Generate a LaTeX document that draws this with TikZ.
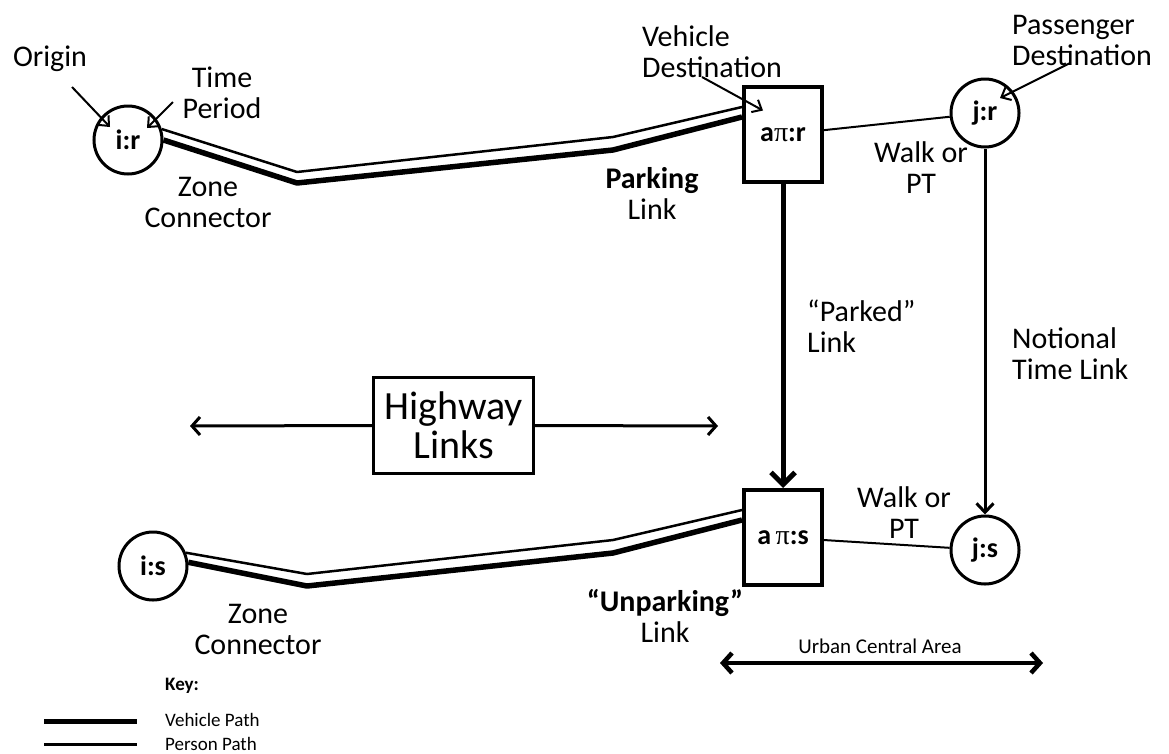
\documentclass[tikz,border=0pt]{standalone}
\usepackage{fontspec}
\setmainfont{Carlito}
\newfontfamily\pifont{Liberation Serif}
\usetikzlibrary{arrows.meta,calc}
\begin{document}
\begin{tikzpicture}[x=1pt,y=-1pt,
  lbl/.style={font=\fontsize{30}{31}\selectfont, inner sep=0pt, align=center},
  lbll/.style={font=\fontsize{30}{31}\selectfont, inner sep=0pt, align=left, anchor=west},
  small/.style={font=\fontsize{19}{20}\selectfont, inner sep=0pt, anchor=west},
  circ/.style={circle, draw, line width=3pt, minimum size=68pt, inner sep=0pt, font=\bfseries\fontsize{28}{28}\selectfont},
  zbox/.style={rectangle, draw, line width=4pt, minimum width=78pt, minimum height=95pt, inner sep=0pt, font=\bfseries\fontsize{28}{28}\selectfont},
  hbox/.style={rectangle, draw, line width=3pt, minimum width=160pt, minimum height=96pt, inner sep=0pt, align=center, font=\fontsize{40}{39}\selectfont},
  person/.style={line width=2.5pt, line join=round},
  vehicle/.style={line width=5.5pt, line join=round},
  walk/.style={line width=2pt},
  pointer/.style={line width=2pt, -{Straight Barb[length=8pt,width=14pt]}},
]
\useasboundingbox (0,0) rectangle (1169,753);

% nodes
\node[circ] (ir) at (128,140) {i:r};
\node[circ] (is) at (153,566) {i:s};
\node[circ] (jr) at (985,113) {j:r};
\node[circ] (js) at (985,550) {j:s};
\node[zbox] (ar) at (783,134.5) {a{\pifont\mdseries π}:r};
\node[zbox] (as) at (783,537.5) {a\,{\pifont\mdseries π}:s};
\node[hbox] (hw) at (453.5,425.5) {Highway\\Links};

% bend points
\coordinate (up1) at (297,172);
\coordinate (up2) at (613,137);
\coordinate (uv1) at (297,183);
\coordinate (uv2) at (613,150);
\coordinate (lp1) at (307,574);
\coordinate (lp2) at (613,540);
\coordinate (lv1) at (307,586);
\coordinate (lv2) at (613,553);

% zone connector / parking paths
\draw[person] (ir.18) -- (up1) -- (up2) -- ($(ar.west)+(0,-27.5)$);
\draw[vehicle] (ir.east) -- (uv1) -- (uv2) -- ($(ar.west)+(0,-17.5)$);
\draw[person] (is.22) -- (lp1) -- (lp2) -- ($(as.west)+(0,-27.5)$);
\draw[vehicle] (is.6) -- (lv1) -- (lv2) -- ($(as.west)+(0,-17.5)$);

% walk links
\draw[walk] (ar) -- (jr);
\draw[walk] (as) -- (js);

% parked link and notional time link
\draw[line width=5pt, -{Straight Barb[length=12pt,width=24pt]}] (ar.south) -- (as.north);
\draw[line width=3pt, -{Straight Barb[length=9pt,width=17pt]}] (jr.south) -- (js.north);

% highway arrows
\coordinate (hl) at (190,426);
\coordinate (hr) at (718,426);
\draw[line width=3pt, -{Straight Barb[length=8pt,width=18pt]}] (hw.west) -- (hl);
\draw[line width=3pt, -{Straight Barb[length=8pt,width=18pt]}] (hw.east) -- (hr);

% pointer arrows
\coordinate (po) at (72,87);
\coordinate (pt) at (173,102);
\coordinate (pv) at (702,77);
\coordinate (pp) at (1070,63);
\draw[pointer] (po) -- ($(ir.center)+(-18,-13)$);
\draw[pointer] (pt) -- ($(ir.center)+(19,-12)$);
\draw[pointer] (pv) -- ($(ar.center)+(-20,-24)$);
\draw[pointer] (pp) -- ($(jr.center)+(15,-15)$);

% labels
\node[lbl] (tOrigin) at (50,59) {Origin};
\node[lbl] (tTime) at (222,93) {Time\\Period};
\node[lbl] (tZone1) at (208,202) {Zone\\Connector};
\node[lbll] (tVD) at (642,52) {Vehicle\\Destination};
\node[lbll] (tPD) at (1012,40) {Passenger\\Destination};
\node[lbl] (tWalk1) at (921,168) {Walk or\\PT};
\node[lbl] (tPark) at (652,193) {\textbf{Parking}\\Link};
\node[lbll] (tParked) at (807,326) {“Parked”\\Link};
\node[lbll] (tNot) at (1012,354) {Notional\\Time Link};
\node[lbl] (tWalk2) at (904,513) {Walk or\\PT};
\node[lbl] (tUnpark) at (665,616) {\textbf{“Unparking”}\\Link};
\node[lbl] (tZone2) at (258,629) {Zone\\Connector};

% urban central area
\node[inner sep=0pt, font=\fontsize{21}{22}\selectfont] (tUrban) at (880,646) {Urban Central Area};
\coordinate (ul) at (720,663);
\coordinate (ur) at (1043,663);
\draw[line width=4.5pt, {Straight Barb[length=9pt,width=20pt]}-{Straight Barb[length=9pt,width=20pt]}] (ul) -- (ur);

% key
\node[small, font=\bfseries\fontsize{19}{20}\selectfont] (tKey) at (165,686) {Key:};
\node[small] (tVeh) at (165,720) {Vehicle Path};
\node[small] (tPer) at (165,744) {Person Path};
\coordinate (k1a) at (44,721);
\coordinate (k1b) at (137,721);
\coordinate (k2a) at (44,744);
\coordinate (k2b) at (137,744);
\draw[line width=5pt] (k1a) -- (k1b);
\draw[line width=3pt] (k2a) -- (k2b);
\end{tikzpicture}
\end{document}
